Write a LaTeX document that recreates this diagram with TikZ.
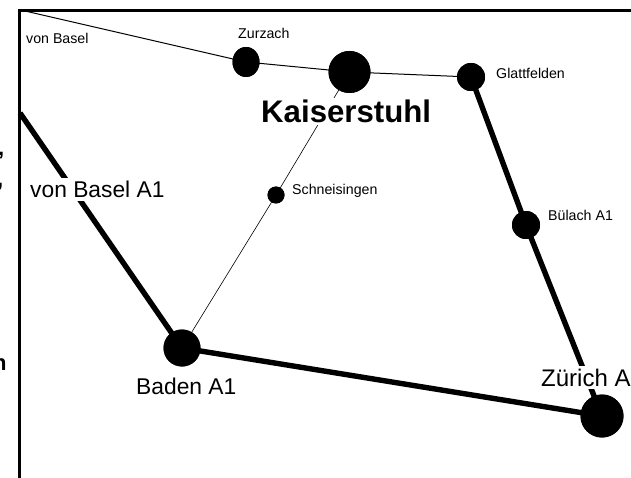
\documentclass[tikz,border=0pt]{standalone}
\usepackage{fontspec}
\setmainfont{Liberation Sans}
\usetikzlibrary{shapes.geometric}
\tikzset{
  x=1pt,y=-1pt,
  stop/.style={circle,fill=black,draw=none,inner sep=0pt,minimum size=#1},
  road/.style={line width=1pt,black},
  thinroad/.style={line width=0.6pt,black},
  motorway/.style={line width=5.4pt,black},
  small/.style={inner sep=0pt,font=\fontsize{14.2}{16}\selectfont},
  mid/.style={inner xsep=0pt,inner ysep=3pt,fill=white,font=\fontsize{22.8}{25}\selectfont},
  big/.style={inner xsep=1pt,inner ysep=2pt,fill=white,font=\fontsize{31.2}{34}\selectfont\bfseries},
  frag/.style={inner sep=0pt,font=\fontsize{22}{25}\selectfont\bfseries},
}
\begin{document}
\begin{tikzpicture}
\useasboundingbox (0,0) rectangle (631,478);
\clip (0,0) rectangle (631,478);
\fill[white] (0,0) rectangle (631,478);
\draw[line width=2.5pt] (19.5,478) -- (19.5,10.5) -- (631,10.5);
\node[frag,anchor=base west] (fa) at (-2,156) {,};
\node[frag,anchor=base west] (fb) at (-3,187) {,};
\node[frag,anchor=base west] (fc) at (-7,370) {n};
\coordinate (basel) at (25,11);
\coordinate (west) at (20,113);
\node[stop=28pt,ellipse,minimum width=27pt,minimum height=30pt] (zur) at (246,62) {};
\node[stop=42pt] (kai) at (349.5,72) {};
\node[stop=28pt] (gla) at (471,77) {};
\node[stop=28pt] (bul) at (526,225) {};
\node[stop=17pt] (sch) at (276,195) {};
\node[stop=37pt] (bad) at (182,348) {};
\node[stop=43pt] (zue) at (602,416) {};
\draw[road] (basel) -- (zur.center);
\draw[road] (zur.center) -- (kai.center);
\draw[road] (kai.center) -- (gla.center);
\draw[thinroad] (kai.center) -- (sch.center);
\draw[thinroad] (sch.center) -- (bad.center);
\draw[motorway] (west) -- (bad.center);
\draw[motorway] (bad.center) -- (zue.center);
\draw[motorway] (gla.center) -- (bul.center);
\draw[motorway] (bul.center) -- (zue.center);
\node[stop=28pt,ellipse,minimum width=27pt,minimum height=30pt] at (zur) {};
\node[stop=42pt] at (kai) {};
\node[stop=28pt] at (gla) {};
\node[stop=28pt] at (bul) {};
\node[stop=17pt] at (sch) {};
\node[stop=37pt] at (bad) {};
\node[big,anchor=base west] (lkai) at (260,123) {Kaiserstuhl};
\node[mid,anchor=base west] (lbas) at (30,198) {von Basel A1};
\node[mid,anchor=base west,fill=none] (lbad) at (136,394) {Baden A1};
\node[mid,anchor=base west,font=\fontsize{24}{26}\selectfont] (lzue) at (541,386) {Zürich A};
\node[stop=43pt] at (zue) {};
\node[small,anchor=base west] (lzur) at (238,39) {Zurzach};
\node[small,anchor=base west] (lvb) at (26,44) {von Basel};
\node[small,anchor=base west] (lgla) at (496,79) {Glattfelden};
\node[small,anchor=base west] (lsch) at (292,195) {Schneisingen};
\node[small,anchor=base west] (lbul) at (548,220.5) {Bülach A1};
\end{tikzpicture}
\end{document}
